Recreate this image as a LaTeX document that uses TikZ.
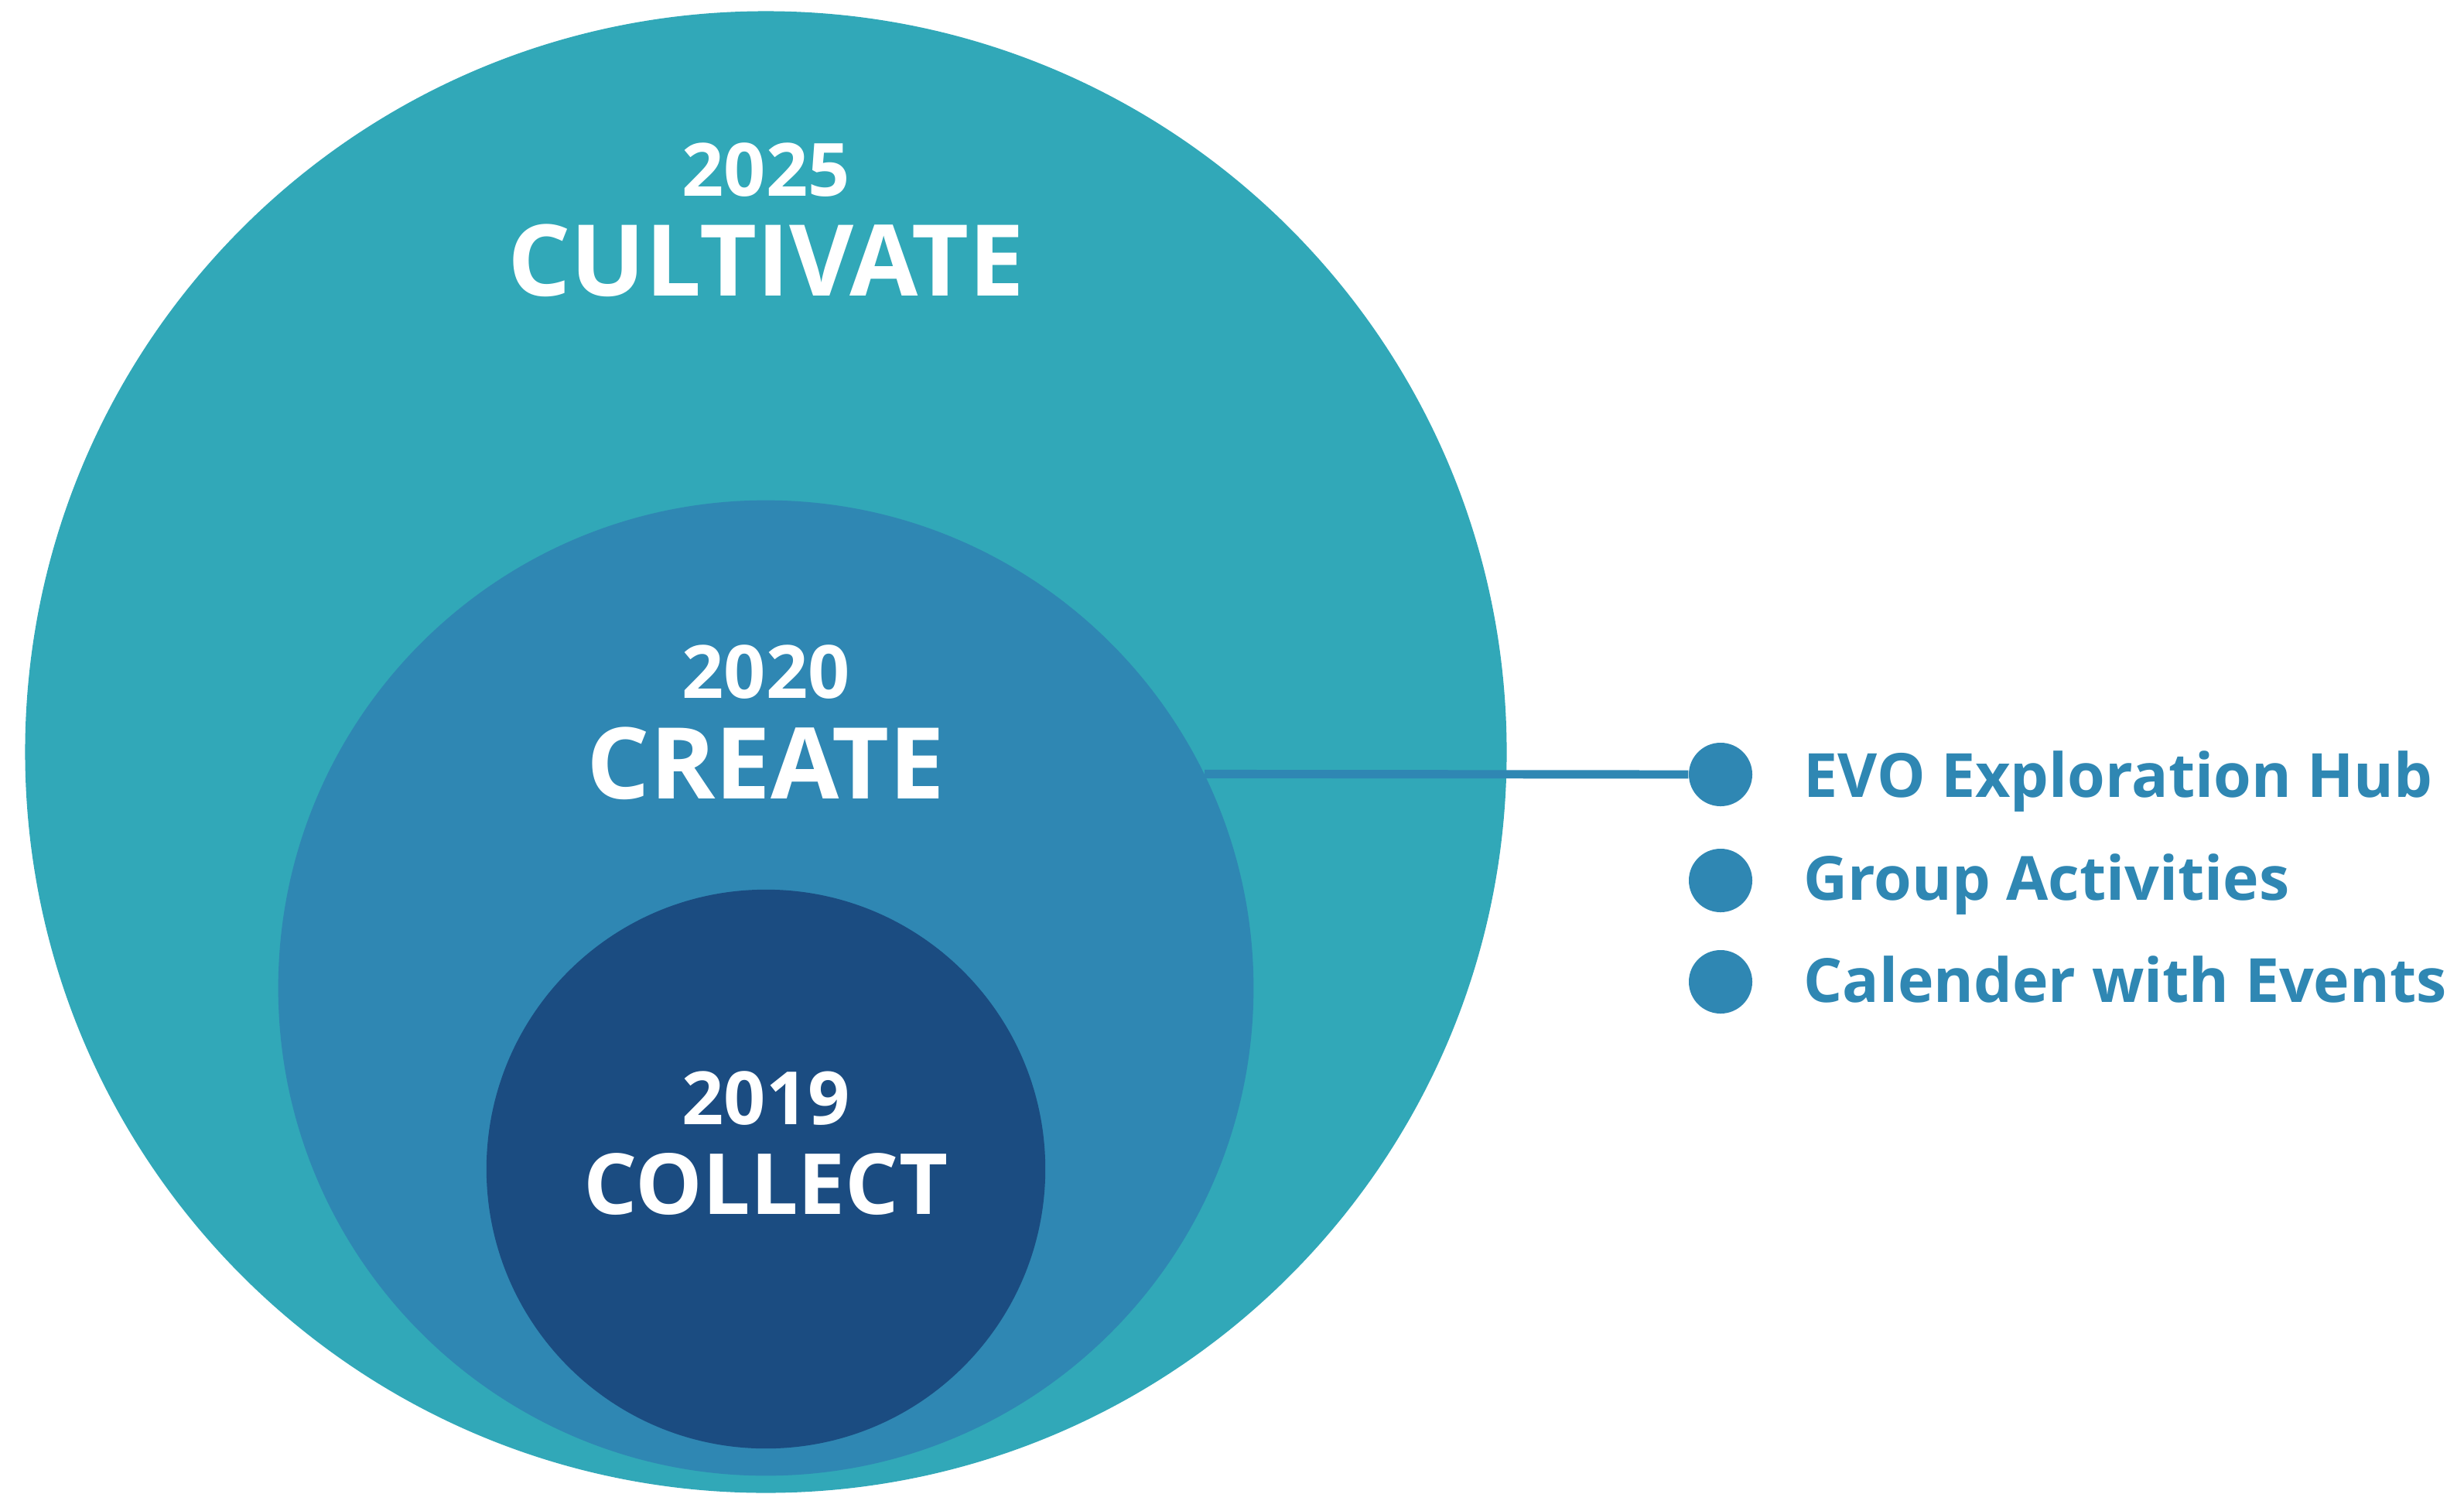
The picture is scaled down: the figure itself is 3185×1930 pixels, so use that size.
\documentclass[tikz,border=0pt]{standalone}
\usepackage{fontspec}
\setmainfont{Open Sans}
\usepackage{tikz}
\usetikzlibrary{positioning}
\definecolor{Teal}{HTML}{31A8B8}
\definecolor{Mid}{HTML}{2F87B3}
\definecolor{Deep}{HTML}{1B4C81}
\tikzset{
  ring/.style={circle,inner sep=0pt,draw=none},
  year/.style={anchor=base,text=white,font=\fontsize{27pt}{30pt}\selectfont\bfseries},
  stage/.style={anchor=base,text=white,font=\fontsize{36.4pt}{40pt}\selectfont\bfseries},
  dot/.style={circle,inner sep=0pt,minimum size=0.82cm,fill=Mid},
  item/.style={anchor=base west,text=Mid,font=\fontsize{22.4pt}{25pt}\selectfont\bfseries},
  link/.style={draw=Mid,line width=3.1pt},
}
\begin{document}
\begin{tikzpicture}[x=0.01cm,y=-0.01cm]
\useasboundingbox (0,0) rectangle (3185,1930);
% nested stages
\node[ring,fill=Teal,minimum size=19.14cm] (cul) at (990,972) {};
\node[ring,fill=Mid,minimum size=12.6cm] (crc) at (990,1277) {};
\node[ring,fill=Deep,minimum size=7.22cm] (col) at (990,1511) {};
\node[year] (y25) at (990,253) {2025};
\node[stage] (tcul) at (990,382) {CULTIVATE};
\node[year] (y20) at (990,902) {2020};
\node[stage] (tcrc) at (990,1032) {CREATE};
\node[year] (y19) at (990,1453) {2019};
\node[stage,font=\fontsize{31pt}{35pt}\selectfont\bfseries] (tcol) at (990,1569) {COLLECT};
% list on the right
\node[dot] (hub) at (2224,1001) {};
\node[dot] (grp) at (2224,1138) {};
\node[dot] (cal) at (2224,1269) {};
\draw[link] (crc.26) -- (hub.west);
\node[item] (lhub) at (2319,1030) {EVO Exploration Hub};
\node[item] (lgrp) at (2319,1163) {Group Activities};
\node[item] (lcal) at (2319,1295) {Calender with Events};
\end{tikzpicture}
\end{document}
